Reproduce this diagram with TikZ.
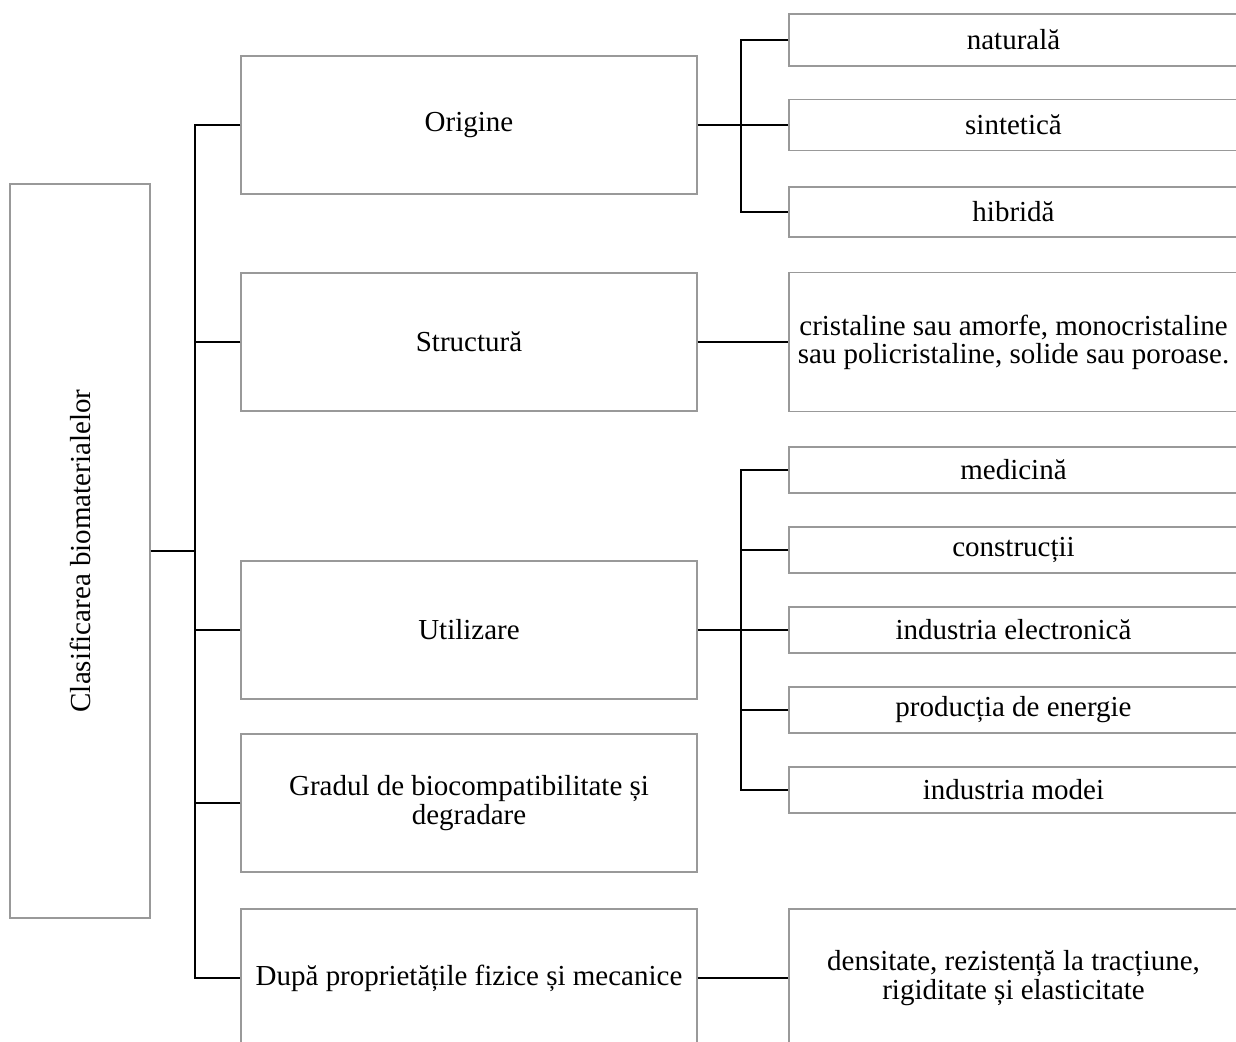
\documentclass[tikz,border=0pt]{standalone}
\usepackage{fontspec}
\setmainfont{Liberation Serif}
\usetikzlibrary{positioning,calc}

\begin{document}
\begin{tikzpicture}[
    x=0.02cm, y=-0.02cm,
    every node/.style={font=\fontsize{16.5}{16}\selectfont},
    box/.style={rectangle, draw=gray!80, line width=0.8pt, minimum width=9.12cm, minimum height=2.76cm, align=center, inner sep=2pt},
    leafbox/.style={rectangle, draw=gray!80, line width=0.8pt, minimum width=8.98cm, minimum height=0.92cm, align=center, inner sep=2pt},
    rootbox/.style={rectangle, draw=gray!80, line width=0.8pt, rotate=90, minimum width=14.68cm, minimum height=2.8cm, align=center},
    link/.style={line width=1.3pt, black}
]
\useasboundingbox (0,0) rectangle (1236,1041);
\clip (0,0) rectangle (1236,1041);

% ============ ROOT ============
\node[rootbox] (root) at (80,551) {Clasificarea biomaterialelor};

% ============ CRITERIA ============
\node[box] (orig) at (469,125) {Origine};
\node[box] (struct) at (469,342) {Structură};
\node[box] (util) at (469,630) {Utilizare};
\node[box] (grad) at (469,803) {Gradul de biocompatibilitate și\\degradare};
\node[box] (dupa) at (469,978) {După proprietățile fizice și mecanice};

% trunk
\coordinate (hub) at (195,551);
\draw[link] (root.south) -- (hub);
\draw[link] (orig.west) -| (hub) |- (dupa.west);
\foreach \n in {struct,util,grad}
    \draw[link] (\n.west) -- (\n.west -| hub);

% ============ ORIGIN ============
\node[leafbox, minimum height=1.04cm] (nat) at (1013.5,40) {naturală};
\node[leafbox, minimum height=1.02cm] (sint) at (1013.5,125) {sintetică};
\node[leafbox, minimum height=1cm] (hibr) at (1013.5,212) {hibridă};

\coordinate (ohub) at (741,125);
\draw[link] (orig.east) -- (ohub);
\draw[link] (nat.west) -| (ohub) |- (hibr.west);
\draw[link] (ohub) -- (sint.west);

% ============ STRUCTURE ============
\node[leafbox, minimum height=2.78cm] (cryst) at (1013.5,342) {cristaline sau amorfe, monocristaline\\sau policristaline, solide sau poroase.};
\draw[link] (struct.east) -- (cryst.west);

% ============ USE ============
\node[leafbox] (med) at (1013.5,470) {medicină};
\node[leafbox] (constr) at (1013.5,550) {construcții};
\node[leafbox] (elec) at (1013.5,630) {industria electronică};
\node[leafbox] (energ) at (1013.5,710) {producția de energie};
\node[leafbox] (moda) at (1013.5,790) {industria modei};

\coordinate (uhub) at (741,630);
\draw[link] (util.east) -- (uhub);
\draw[link] (med.west) -| (uhub) |- (moda.west);
\foreach \n in {constr,elec,energ}
    \draw[link] (\n.west) -- (\n.west -| uhub);

% ============ PROPERTIES ============
\node[leafbox, minimum height=2.76cm] (prop) at (1013.5,978) {densitate, rezistență la tracțiune,\\rigiditate și elasticitate};
\draw[link] (dupa.east) -- (prop.west);

\end{tikzpicture}
\end{document}
